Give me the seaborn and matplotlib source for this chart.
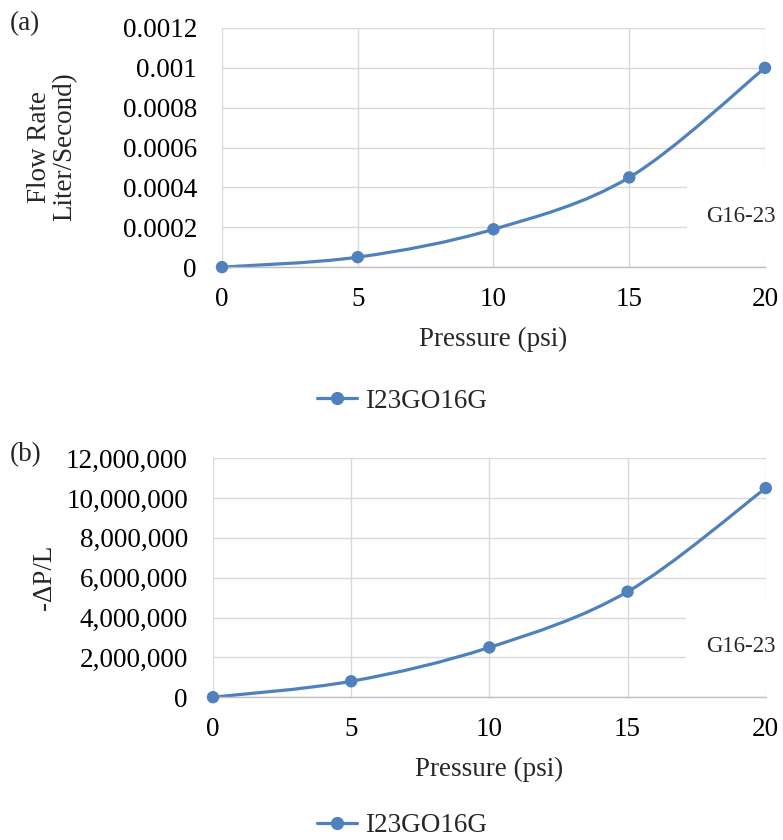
import matplotlib
matplotlib.use("Agg")
import matplotlib.pyplot as plt
from matplotlib.path import Path
from matplotlib.patches import PathPatch, Rectangle
from matplotlib.lines import Line2D
from matplotlib.ticker import FuncFormatter
import seaborn as sns

# data
pressure = [0, 5, 10, 15, 20]
flow_rate = [0.0, 0.00005, 0.00019, 0.00045, 0.001]
dp_over_l = [0, 800000, 2500000, 5300000, 10500000]
series_name = "I23GO16G"
sample = "G16-23"

sns.set_theme(style="whitegrid")
plt.rcParams['font.family'] = ['Liberation Serif', 'DejaVu Serif']
blue = '#4F81BD'
grid = '#d9d9d9'
fs = 19.5


def smooth_path(xs, ys):
    # Excel-style smoothed line: cubic bezier through the points
    n = len(xs)
    pts = list(zip(xs, ys))
    verts = [pts[0]]
    codes = [Path.MOVETO]
    for i in range(n - 1):
        p0 = pts[i - 1] if i > 0 else pts[i]
        p1 = pts[i]
        p2 = pts[i + 1]
        p3 = pts[i + 2] if i + 2 < n else pts[i + 1]
        c1 = (p1[0] + (p2[0] - p0[0]) / 6, p1[1] + (p2[1] - p0[1]) / 6)
        c2 = (p2[0] - (p3[0] - p1[0]) / 6, p2[1] - (p3[1] - p1[1]) / 6)
        verts += [c1, c2, p2]
        codes += [Path.CURVE4] * 3
    return Path(verts, codes)


def panel(ax, y, fmt, ymax, step):
    ax.set_facecolor('white')
    patch = PathPatch(smooth_path(pressure, y), facecolor='none', edgecolor=blue,
                      lw=2.3, zorder=2, clip_on=False)
    ax.add_patch(patch)
    sns.scatterplot(x=pressure, y=y, ax=ax, color=blue, s=80, edgecolor='none',
                    zorder=3, clip_on=False)
    ax.set_xlim(0, 20)
    ax.set_ylim(0, ymax)
    ax.set_xticks(pressure)
    ax.set_yticks([i * step for i in range(7)])
    ax.yaxis.set_major_formatter(FuncFormatter(fmt))
    ax.grid(True, color=grid, lw=1.0)
    for s in ['left', 'top', 'right']:
        ax.spines[s].set_visible(False)
    ax.spines['bottom'].set_color('#bfbfbf')
    ax.spines['bottom'].set_linewidth(1.0)
    ax.tick_params(axis='both', length=0, labelsize=fs, colors='black')
    ax.tick_params(axis='y', pad=18)
    ax.tick_params(axis='x', pad=14)
    ax.set_xlabel('Pressure (psi)', fontsize=fs, labelpad=11)
    ax.set_ylabel('')
    ax.add_patch(Rectangle((0.856, 0.03), 0.16, 0.376, transform=ax.transAxes,
                           facecolor='white', edgecolor='none', zorder=1.5,
                           clip_on=False))
    ax.text(0.955, 0.213, sample, transform=ax.transAxes, ha='center',
            va='center', fontsize=16.5, zorder=4)


fig = plt.figure(figsize=(7.83, 8.4), dpi=100)
ax1 = fig.add_axes([0.2835, 0.682, 0.6935, 0.2847])
ax2 = fig.add_axes([0.272, 0.170, 0.706, 0.2845])

panel(ax1, flow_rate, lambda v, p: '0' if v == 0 else '{:g}'.format(round(v, 6)),
      0.0012, 0.0002)
panel(ax2, dp_over_l, lambda v, p: '{:,.0f}'.format(v), 12000000, 2000000)

fig.text(52 / 783, 1 - 147 / 840, 'Flow Rate\nLiter/Second)', rotation=90,
         ha='center', va='center', fontsize=fs, linespacing=1.0)
fig.text(45 / 783, 1 - 577 / 840, '-ΔP/L', rotation=90, ha='center',
         va='center', fontsize=fs)

fig.text(10 / 783, 1 - 24 / 840, '(a)', ha='left', va='center', fontsize=fs)
fig.text(10 / 783, 1 - 455 / 840, '(b)', ha='left', va='center', fontsize=fs)

handle = Line2D([], [], color=blue, lw=2.3, marker='o', markersize=8.5)
for ypix in (401, 826):
    fig.legend([handle], [series_name], loc='center',
               bbox_to_anchor=(402 / 783, 1 - ypix / 840), frameon=False,
               fontsize=fs, handlelength=1.5, handletextpad=0.3,
               borderpad=0.1)

fig.savefig('out.png', dpi=100)
